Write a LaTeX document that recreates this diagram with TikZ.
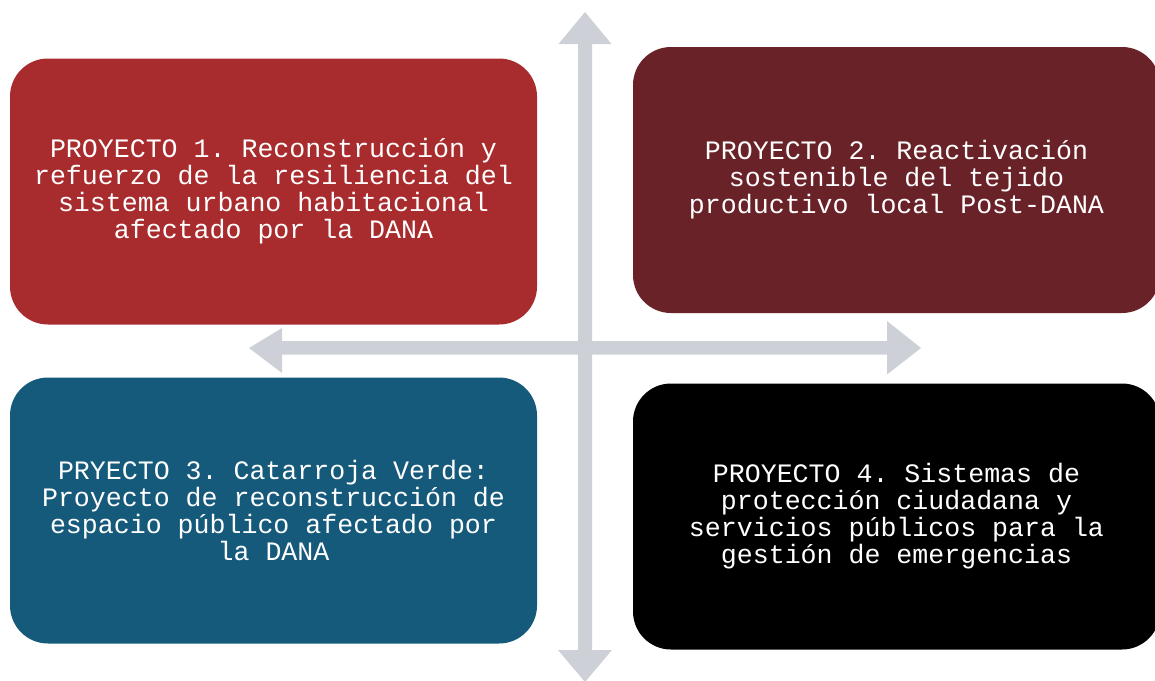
\documentclass[tikz,border=0pt]{standalone}
\usepackage{fontspec}
\setmonofont{Liberation Mono}
\definecolor{boxred}{HTML}{A82C2E}
\definecolor{boxwine}{HTML}{6A2229}
\definecolor{boxblue}{HTML}{155A7B}
\definecolor{boxblack}{HTML}{000000}
\definecolor{axisgray}{HTML}{CDD1D7}
\begin{document}
\begin{tikzpicture}[x=1pt,y=-1pt,
  projbox/.style={rounded corners=38pt, inner sep=0pt, minimum width=527pt,
    minimum height=266pt, text=white, align=center,
    font=\ttfamily\fontsize{26.6}{27}\selectfont},
  axis/.style={fill=axisgray, draw=none}]
\useasboundingbox (0,0) rectangle (1155,680);
% axes
\coordinate (vtop) at (585,12);
\coordinate (vbot) at (585,682);
\coordinate (hleft) at (249,348);
\coordinate (hright) at (921,348);
\fill[axis] (vtop) -- (611.5,44) -- (592,44) -- (592,650) -- (612,650) -- (vbot)
  -- (558,650) -- (578,650) -- (578,44) -- (558.5,44) -- cycle;
\fill[axis] (hleft) -- (282,328) -- (282,341) -- (887,341) -- (887,321) -- (hright)
  -- (887,374.5) -- (887,354.5) -- (282,354.5) -- (282,373) -- cycle;
% boxes
\node[projbox, fill=boxred] (p1) at (273.5,191.5)
  {PROYECTO 1. Reconstrucción y\\refuerzo de la resiliencia del\\sistema urbano habitacional\\afectado por la DANA};
\node[projbox, fill=boxwine] (p2) at (896.5,180)
  {PROYECTO 2. Reactivación\\sostenible del tejido\\productivo local Post-DANA};
\node[projbox, fill=boxblue] (p3) at (273.5,510.5)
  {PRYECTO 3. Catarroja Verde:\\Proyecto de reconstrucción de\\espacio público afectado por\\la DANA};
\node[projbox, fill=boxblack] (p4) at (896.5,516.5)
  {PROYECTO 4. Sistemas de\\protección ciudadana y\\servicios públicos para la\\gestión de emergencias};
\end{tikzpicture}
\end{document}
